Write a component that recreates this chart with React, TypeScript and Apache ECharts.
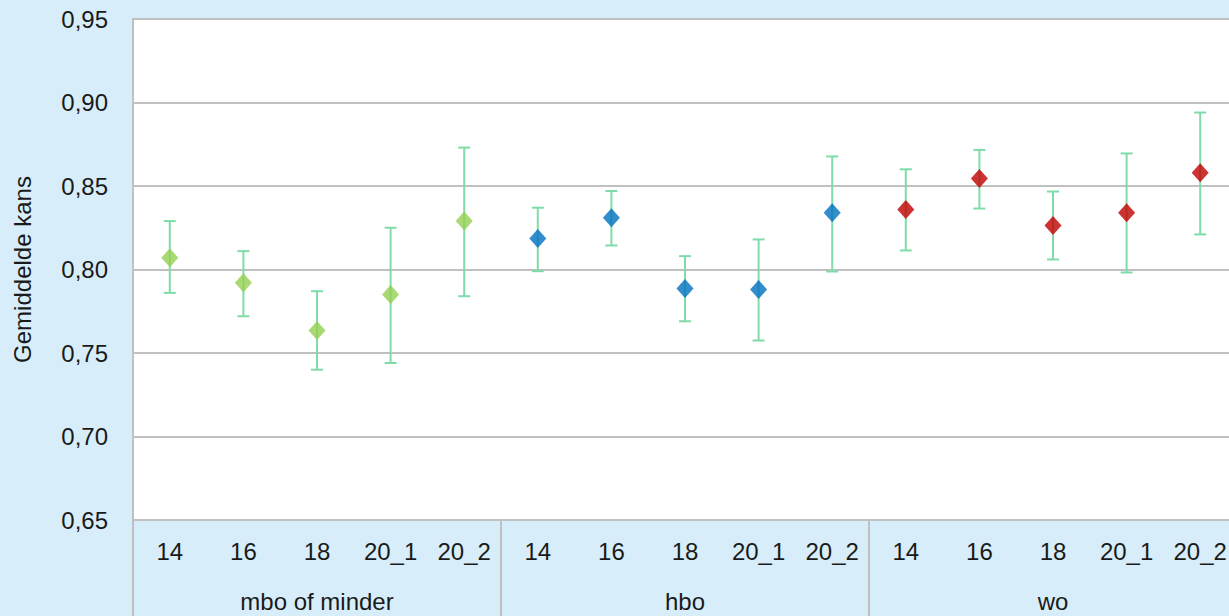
import React, { useEffect, useRef } from "react";
import * as echarts from "echarts";

const years = ["14", "16", "18", "20_1", "20_2"];
const groups = ["mbo of minder", "hbo", "wo"];
const groupColors = ["#92d050", "#0070c0", "#c00000"];

const mboMean = [0.807, 0.792, 0.7635, 0.785, 0.829];
const mboLow = [0.786, 0.772, 0.74, 0.744, 0.784];
const mboHigh = [0.829, 0.811, 0.787, 0.825, 0.873];

const hboMean = [0.8186, 0.831, 0.7886, 0.788, 0.834];
const hboLow = [0.799, 0.8144, 0.769, 0.7575, 0.7988];
const hboHigh = [0.837, 0.847, 0.808, 0.818, 0.8677];

const woMean = [0.836, 0.8545, 0.8263, 0.834, 0.858];
const woLow = [0.8114, 0.8365, 0.806, 0.7982, 0.821];
const woHigh = [0.86, 0.8716, 0.8467, 0.8695, 0.894];

const yTicks = [0.65, 0.7, 0.75, 0.8, 0.85, 0.9, 0.95];

export default function App() {
  const ref = useRef<HTMLDivElement>(null);
  useEffect(() => {
    document.body.style.margin = "0";
    document.body.style.overflow = "hidden";
    const chart = echarts.init(ref.current!, null, { renderer: "svg" });
    const categories: string[] = [];
    groups.forEach(() => years.forEach((y) => categories.push(y)));
    const means = [mboMean, hboMean, woMean];
    const lows = [mboLow, hboLow, woLow];
    const highs = [mboHigh, hboHigh, woHigh];
    const errData: number[][] = [];
    const pointSeries: any[] = [];
    groups.forEach((g, gi) => {
      const pts: any[] = [];
      years.forEach((_, i) => {
        const idx = gi * years.length + i;
        errData.push([idx, lows[gi][i], highs[gi][i]]);
        pts.push([idx, means[gi][i]]);
      });
      pointSeries.push({
        type: "scatter",
        name: g,
        data: pts,
        symbol: "diamond",
        symbolSize: [17, 19],
        itemStyle: { color: groupColors[gi] },
        z: 5,
      });
    });
    const font = "Arial, 'Liberation Sans', sans-serif";
    chart.setOption({
      animation: false,
      backgroundColor: "#d7eefa",
      grid: {
        left: 133,
        right: 0,
        top: 19,
        bottom: 96,
        show: true,
        backgroundColor: "#ffffff",
        borderColor: "#c0c0c0",
        borderWidth: 2,
      },
      xAxis: [
        {
          type: "category",
          data: categories,
          boundaryGap: true,
          axisLine: { show: true, lineStyle: { color: "#c0c0c0", width: 2 } },
          axisTick: { show: false },
          axisLabel: {
            color: "#1a1a1a",
            fontSize: 24,
            fontFamily: font,
            margin: 19,
            interval: 0,
          },
        },
        {
          type: "category",
          data: groups,
          position: "bottom",
          boundaryGap: true,
          axisLine: { show: false },
          axisTick: {
            show: true,
            length: 100,
            lineStyle: { color: "#c0c0c0", width: 2 },
          },
          axisLabel: {
            color: "#1a1a1a",
            fontSize: 24,
            fontFamily: font,
            margin: 69,
          },
        },
      ],
      yAxis: {
        type: "value",
        min: yTicks[0],
        max: yTicks[yTicks.length - 1],
        interval: 0.05,
        name: "Gemiddelde kans",
        nameLocation: "middle",
        nameGap: 99,
        nameTextStyle: { color: "#1a1a1a", fontSize: 24, fontFamily: font },
        axisLine: { show: false },
        axisTick: { show: false },
        splitLine: { lineStyle: { color: "#c0c0c0", width: 2 } },
        axisLabel: {
          color: "#1a1a1a",
          fontSize: 24,
          fontFamily: font,
          margin: 25,
          formatter: (v: number) => v.toFixed(2).replace(".", ","),
        },
      },
      series: [
        {
          type: "custom",
          name: "err",
          data: errData,
          z: 3,
          renderItem: (params: any, api: any) => {
            const x = api.value(0);
            const lo = api.coord([x, api.value(1)]);
            const hi = api.coord([x, api.value(2)]);
            const half = 6;
            const style = { stroke: "#7fdca8", lineWidth: 2 };
            return {
              type: "group",
              children: [
                { type: "line", shape: { x1: lo[0], y1: lo[1], x2: hi[0], y2: hi[1] }, style },
                { type: "line", shape: { x1: lo[0] - half, y1: lo[1], x2: lo[0] + half, y2: lo[1] }, style },
                { type: "line", shape: { x1: hi[0] - half, y1: hi[1], x2: hi[0] + half, y2: hi[1] }, style },
              ],
            };
          },
        },
        ...pointSeries,
      ],
    });
    return () => chart.dispose();
  }, []);
  return <div ref={ref} style={{ width: 1237, height: 616 }} />;
}
